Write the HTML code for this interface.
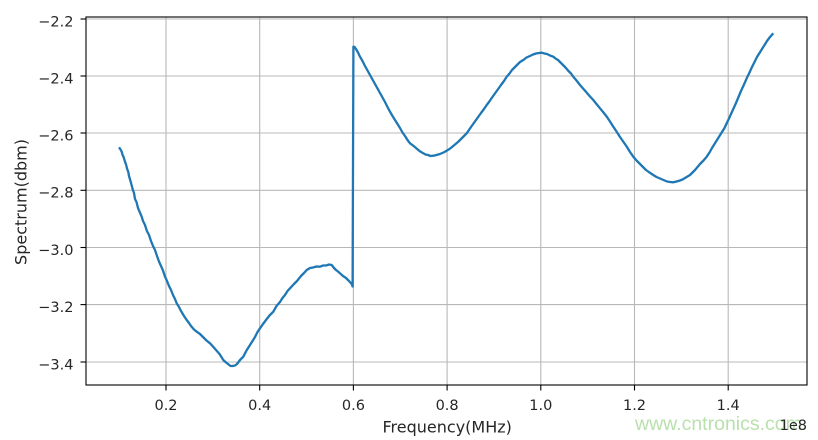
<!DOCTYPE html>
<html>
<head>
<meta charset="utf-8">
<style>
html,body{margin:0;padding:0;background:#fff;}
svg{display:block;}
text{font-family:"DejaVu Sans","Liberation Sans",sans-serif;fill:#262626;}
</style>
</head>
<body>
<svg width="818" height="440" viewBox="0 0 818 440" xmlns="http://www.w3.org/2000/svg">
<rect x="0" y="0" width="818" height="440" fill="#fff"/>
<!-- grid -->
<g stroke="#b8b8b8" stroke-width="1.1">
<line x1="166" y1="17" x2="166" y2="385"/>
<line x1="259.7" y1="17" x2="259.7" y2="385"/>
<line x1="353.4" y1="17" x2="353.4" y2="385"/>
<line x1="447.1" y1="17" x2="447.1" y2="385"/>
<line x1="540.8" y1="17" x2="540.8" y2="385"/>
<line x1="634.5" y1="17" x2="634.5" y2="385"/>
<line x1="728.2" y1="17" x2="728.2" y2="385"/>
<line x1="86" y1="19" x2="807" y2="19"/>
<line x1="86" y1="76" x2="807" y2="76"/>
<line x1="86" y1="133" x2="807" y2="133"/>
<line x1="86" y1="190.3" x2="807" y2="190.3"/>
<line x1="86" y1="247.5" x2="807" y2="247.5"/>
<line x1="86" y1="304.6" x2="807" y2="304.6"/>
<line x1="86" y1="362" x2="807" y2="362"/>
</g>
<!-- data -->
<polyline fill="none" stroke="#1f77b4" stroke-width="2.3" stroke-linejoin="round" points="
119,147.3 120.5,149.5 121.7,151.7 122.6,155 123.5,156.8 125,161.7 126.2,165 127,168.5 128.3,172 129,176 130.5,181 131.7,185.5 132.6,189 134,193 135,199 136.5,202 138,208 139.7,212 141.7,216.7 143,221 145,225 146.7,230.5 149,235 151,241 153.3,246.7 155,250 157,256 159,261.5 161,266 163,270.5 165,276.7 167,281 169,286 171,290 173,295 175,299 176.7,303.3 179,307 181,311 184,316 186.7,320 189,323 191,326 194,329.5 196.7,331.7 200,334 203,337 206.5,340.5 210,343.3 213,346.5 216,350 219.5,354 223.3,360 226,362.5 228,364 230.5,366 232.7,366 235,365.5 237,364 240,360 243.3,356.7 246.5,350.5 250,345 252.5,341 255,337 257.5,332 260,328.3 263,324 266,320 269.5,315.5 273.3,311.7 276.5,306 280,302 282.5,298 285,295 287.5,291 290,288.3 293.5,284.5 297,281 299,278.5 301,276 304,273 306.7,270 310,268 313,267.5 316.5,266.5 320,266.7 323,265.5 326,265.5 329,264.5 331.7,265 334,268 336,270 338,271.5 340,273.3 343,276 346,278 349,281 351.7,284 352.6,286.5 353.4,46.7 354.5,46.9 356,49 358,52.5 360,56.7 362.5,61 365,66 367.5,70.5 370,75 372.5,79.5 375,84 377.5,88.5 380,93 382.5,97.5 385,102 387.5,107 390,111.7 392.5,116 395,120 397.5,124 400,128 402.5,132.5 405,136 407.5,140 410,143.3 413,145.5 416,148 419.5,151 423.3,153.3 425.5,154.5 428,155 430.5,156 433.3,155.7 436.5,155 440,154 443.5,152.5 446.7,150.7 449.5,149 452,147 455,144.5 458,142 460,140 462,138 464.5,135.5 466.7,133.3 469,130 471,127 473.5,123.5 476,120 478.5,116.5 481,113 484,109 486.7,105 489,102 491,99 493.5,95.5 496,92 498.5,88.5 501,85 504,81 506.7,76.7 509.5,73.5 512,70 514.5,67.5 517,65 520,62 523.3,60 526.5,57.5 530,56 533,54.5 536,53.5 539,53 541.7,52.7 544.5,53.5 547,54 550,55.5 553.3,56.7 555.5,58.5 558,60 560.5,62.5 563,65 565.5,67.5 568,70.5 571,73.5 573.3,76.7 576.5,80.5 580,85 583.5,89 587,93 590,96.5 593.3,100 596.5,104 600,108.3 603.5,112.5 607,117 610,121.5 613.3,126.7 616.5,131.5 620,137 623.5,142 627,147 630,152 633.3,156.7 636.5,160.5 640,164 643,167 646,170 649.5,172.5 653.3,175 656.5,177 660,178.5 663.5,180 667,181.5 670,182 673.3,182.3 676.5,181.5 680,180.5 682.5,179.5 685,178 687.5,176.5 690,175 692.5,172.5 695,170 697.5,167 700,164 703.5,160.5 706.7,156.7 709.5,152.5 712,148 714.5,144 717,140 719.5,136 722,132 724.5,128 726.7,123.3 729,118.5 731,114 733.5,108.5 736,103 738.5,97 741,91 744,84.5 746.7,78.3 749.5,72.5 752,67 754.5,62 757,57 759.5,53 762,49 764.5,45 767,41 770,37 773.3,33.3"/>
<!-- spines -->
<rect x="86" y="17" width="721" height="368" fill="none" stroke="#000" stroke-width="1.1"/>
<!-- ticks -->
<g stroke="#000" stroke-width="1.1">
<line x1="166" y1="385" x2="166" y2="390.5"/>
<line x1="259.7" y1="385" x2="259.7" y2="390.5"/>
<line x1="353.4" y1="385" x2="353.4" y2="390.5"/>
<line x1="447.1" y1="385" x2="447.1" y2="390.5"/>
<line x1="540.8" y1="385" x2="540.8" y2="390.5"/>
<line x1="634.5" y1="385" x2="634.5" y2="390.5"/>
<line x1="728.2" y1="385" x2="728.2" y2="390.5"/>
<line x1="80.5" y1="19" x2="86" y2="19"/>
<line x1="80.5" y1="76" x2="86" y2="76"/>
<line x1="80.5" y1="133" x2="86" y2="133"/>
<line x1="80.5" y1="190.3" x2="86" y2="190.3"/>
<line x1="80.5" y1="247.5" x2="86" y2="247.5"/>
<line x1="80.5" y1="304.6" x2="86" y2="304.6"/>
<line x1="80.5" y1="362" x2="86" y2="362"/>
</g>
<!-- x tick labels -->
<g font-size="14.5" text-anchor="middle">
<text x="166" y="410">0.2</text>
<text x="259.7" y="410">0.4</text>
<text x="353.4" y="410">0.6</text>
<text x="447.1" y="410">0.8</text>
<text x="540.8" y="410">1.0</text>
<text x="634.5" y="410">1.2</text>
<text x="728.2" y="410">1.4</text>
</g>
<!-- y tick labels -->
<g font-size="14.5" text-anchor="end">
<text x="73.5" y="26.3">−2.2</text>
<text x="73.5" y="83.3">−2.4</text>
<text x="73.5" y="140.3">−2.6</text>
<text x="73.5" y="197.6">−2.8</text>
<text x="73.5" y="254.8">−3.0</text>
<text x="73.5" y="311.9">−3.2</text>
<text x="73.5" y="369.3">−3.4</text>
</g>
<!-- watermark -->
<text x="635" y="430" font-size="19.5" style="font-family:'Liberation Sans',sans-serif;fill:#b9e0ad;">www.cntronics.com</text>
<!-- offset -->
<text x="807" y="430" font-size="14.5" text-anchor="end">1e8</text>
<!-- axis labels -->
<text x="447.2" y="432.5" font-size="16" text-anchor="middle">Frequency(MHz)</text>
<text transform="translate(26.5,202) rotate(-90)" x="0" y="0" font-size="16" text-anchor="middle">Spectrum(dbm)</text>
</svg>
</body>
</html>
